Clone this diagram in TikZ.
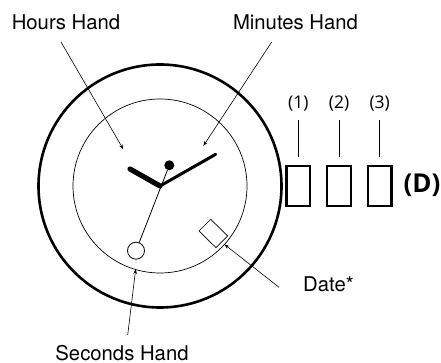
\documentclass[tikz,border=0pt]{standalone}
\usepackage{fontspec}
\setmainfont{TeX Gyre Heros}
\newfontfamily\numfont{Open Sans}
\usetikzlibrary{arrows.meta}
\tikzset{
  lbl/.style={inner sep=0pt, font=\fontsize{20.3}{22}\selectfont},
  numlbl/.style={inner sep=0pt, font=\numfont\fontsize{17.5}{20}\selectfont},
  windowbox/.style={draw, line width=2.2pt, minimum width=23.5pt, minimum height=39.5pt, inner sep=0pt},
  leader/.style={line width=.6pt},
  pointer/.style={line width=.6pt, -{Stealth[length=5pt,width=3.5pt]}}
}
\begin{document}
\begin{tikzpicture}[x=1pt, y=1pt]
\useasboundingbox (0,0) rectangle (441,363);
\coordinate (hub) at (160,177);
\draw[line width=2.6pt](hub) circle(121.5);
\draw[line width=.7pt](hub) circle(87);
% hands
\coordinate (hourtip) at (130,194);
\coordinate (mintip) at (215.7,208.7);
\node[circle, fill, minimum size=10pt, inner sep=0pt] (counter) at (169.3,197.7) {};
\node[circle, draw, line width=.8pt, minimum size=17pt, inner sep=0pt] (sec) at (136,112.3) {};
\draw[line width=.8pt](sec)--(counter);
\draw[line width=5.2pt, line cap=round](hub)--(hourtip);
\draw[line width=3pt, line cap=round](hub)--(mintip);
% date window
\draw[line width=.7pt](210.7,143.7)--(227.7,127)--(216,115.3)--(199,132)--cycle;
% labels
\node[lbl] (hours) at (66,341) {Hours Hand};
\node[lbl] (minutes) at (295.5,341) {Minutes Hand};
\node[lbl] (seconds) at (122,9.5) {Seconds Hand};
\node[lbl, anchor=west] (date) at (303,79) {Date*};
\coordinate (hoursend) at (61,321);
\coordinate (hourspt) at (123.3,213.7);
\coordinate (minutesend) at (271.7,321);
\coordinate (minutespt) at (203.3,217);
\coordinate (secondsend) at (127.7,28);
\coordinate (secondspt) at (135.7,94);
\coordinate (dateend) at (279,75.7);
\coordinate (datept) at (224.3,118.7);
\draw[pointer](hoursend)--(hourspt);
\draw[pointer](minutesend)--(minutespt);
\draw[pointer](secondsend)--(secondspt);
\draw[pointer](dateend)--(datept);
% windows
\foreach \n/\x in {1/298.3, 2/339, 3/379.7}{
  \node[windowbox] (box\n) at (\x,177) {};
  \node[numlbl] (num\n) at (\x,259) {(\n)};
  \draw[leader](\x,243)--(\x,205.5);
}
\node[inner sep=0pt, font=\numfont\bfseries\fontsize{26}{28}\selectfont] (dlabel) at (422,178) {(D)};
\end{tikzpicture}
\end{document}
